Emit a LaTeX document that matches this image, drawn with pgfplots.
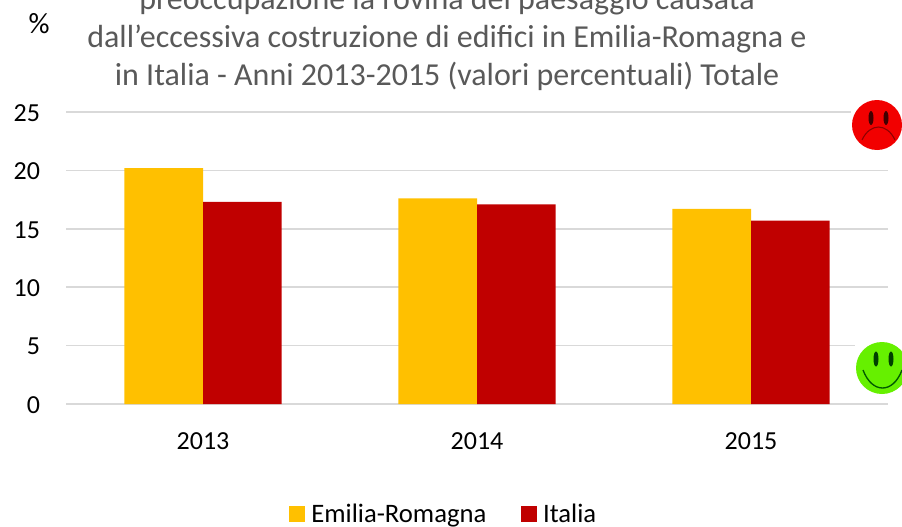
\documentclass[border=0pt]{standalone}
\usepackage{pgfplots}
\usepackage{pgfplotstable}
\usepackage{fontspec}
\setmainfont{Carlito}
\pgfplotsset{compat=1.18}
\definecolor{ergold}{HTML}{FFC000}
\definecolor{itred}{HTML}{C00000}
\definecolor{gridgrey}{HTML}{D9D9D9}
\definecolor{titlegrey}{HTML}{595959}
\definecolor{smilegreen}{HTML}{66F000}
\pgfplotstableread{
idx er it
0 20.2 17.3
1 17.6 17.1
2 16.7 15.7
}\rates
\begin{document}
\begin{tikzpicture}
\useasboundingbox (0,0) rectangle (676.5pt,394.5pt);
\begin{axis}[
  at={(49.5pt,91.5pt)}, anchor=south west,
  scale only axis,
  width=616.5pt, height=219pt,
  xmin=-0.5, xmax=2.5, ymin=0, ymax=25,
  ybar=0pt, bar width=59pt,
  ymajorgrids,
  grid style={gridgrey,line width=1.1pt},
  xtick=data, xticklabels={2013,2014,2015},
  ytick={0,5,...,25},
  major tick length=0pt,
  axis x line=bottom, axis y line=left,
  x axis line style={draw=gridgrey,line width=1.1pt,-},
  y axis line style={draw=none},
  tick style={draw=none},
  xticklabel style={font=\fontsize{19.5}{21}\selectfont,yshift=-18pt,text=black},
  yticklabel style={font=\fontsize{19.5}{21}\selectfont,xshift=-16pt,yshift=-0.7pt,text=black},
  /pgf/number format/assume math mode=true,
  legend style={draw=none,fill=none,at={(0.46,-0.377)},anchor=center,legend columns=2,
    font=\fontsize{20}{22}\selectfont,
    /tikz/every even column/.style={column sep=24pt},
    /tikz/every odd column/.style={column sep=2.5pt}},
  legend image code/.code={\fill[#1] (0pt,-6pt) rectangle (12pt,6pt);},
  clip=false,
]
\addplot[draw=none,fill=ergold] table[x=idx,y=er] {\rates};
\addplot[draw=none,fill=itred] table[x=idx,y=it] {\rates};
\legend{Emilia-Romagna,Italia}
\end{axis}
% everything below is laid out in units of 0.75pt, counted downwards from the top left corner
\begin{scope}[yshift=394.5pt,x=0.75pt,y=-0.75pt]
% chart title, first line running off the top of the page
\node[text=titlegrey,font=\fontsize{24}{28.5}\selectfont,align=center,anchor=center] at (447,39)
  {preoccupazione la rovina del paesaggio causata\\
   dall’eccessiva costruzione di edifici in Emilia-Romagna e\\
   in Italia - Anni 2013-2015 (valori percentuali) Totale};
\node[text=black,font=\fontsize{22}{24}\selectfont] at (39,24) {\%};
% sad face at the top of the scale
\fill[white] (851,95) rectangle (902,155);
\fill[red!95!black] (877,125) circle[radius=25];
\fill[black!75!red] (871,118) ellipse[x radius=2.5,y radius=7];
\fill[black!75!red] (886,118) ellipse[x radius=2.5,y radius=7];
\draw[red!55!black,line width=0.8pt] (862,140) .. controls (870,122.7) and (887,122.7) .. (895,140);
% smiling face at the bottom of the scale
\fill[white] (855,338) rectangle (902,397);
\fill[smilegreen] (882,368) circle[radius=26];
\fill[black!75!green] (876,359) ellipse[x radius=2.5,y radius=7.5];
\fill[black!75!green] (891,359) ellipse[x radius=2.5,y radius=7.5];
\draw[black!65!green,line width=1pt] (863,370) .. controls (872,394) and (893,394) .. (902,370);
\end{scope}
\end{tikzpicture}
\end{document}
